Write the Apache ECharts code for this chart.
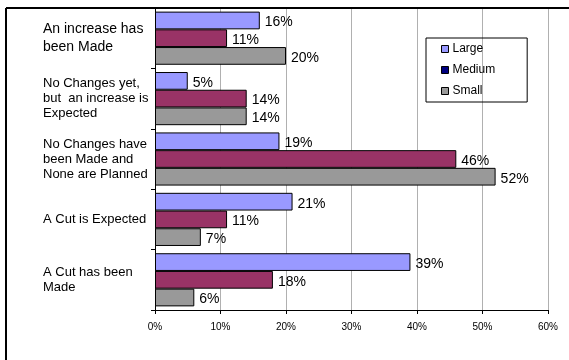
<!DOCTYPE html>
<html>
<head>
<meta charset="utf-8">
<script src="https://cdn.jsdelivr.net/npm/echarts@6/dist/echarts.min.js"></script>
<style>
html,body{margin:0;padding:0;background:#fff;}
#c{width:569px;height:360px;}
</style>
</head>
<body>
<div id="c"></div>
<script>
var categories = [
  "An increase has\nbeen Made",
  "No Changes yet,\nbut  an increase is\nExpected",
  "No Changes have\nbeen Made and\nNone are Planned",
  "A Cut is Expected",
  "A Cut has been\nMade"
];
var seriesNames = ["Large", "Medium", "Small"];
var largeValues = [16, 5, 19, 21, 39];
var mediumValues = [11, 14, 46, 11, 18];
var smallValues = [20, 14, 52, 7, 6];
var xTicks = [0, 10, 20, 30, 40, 50, 60];

var colors = ["#9999FF", "#993366", "#999999"];
var legendColors = ["#9999FF", "#000080", "#999999"];

var chart = echarts.init(document.getElementById('c'));
function mk(name, data, color) {
  return {
    name: name, type: 'bar', data: data,
    barGap: '0%', barCategoryGap: '12%',
    itemStyle: {color: color, borderColor: '#000', borderWidth: 1},
    label: {show: true, position: 'right', distance: 5, formatter: '{c}%', offset: [0, 2],
      color: '#000', fontSize: 14, fontFamily: 'Liberation Sans, Arial, sans-serif'}
  };
}
chart.setOption({
  animation: false,
  backgroundColor: '#fff',
  textStyle: {fontFamily: 'Liberation Sans, Arial, sans-serif'},
  grid: {left: 155, right: 21, top: 8, bottom: 50, containLabel: false, outerBoundsMode: 'none'},
  legend: {
    orient: 'vertical', left: 426, top: 38,
    borderColor: '#000', borderWidth: 1,
    padding: [5, 32, 5, 15],
    itemWidth: 7, itemHeight: 7, itemGap: 9,
    textStyle: {fontSize: 12, color: '#000', padding: [0, 0, 0, -1]},
    data: seriesNames.map(function (n, i) {
      return {name: n, icon: 'rect', itemStyle: {color: legendColors[i], borderColor: '#000', borderWidth: 1}};
    })
  },
  xAxis: {
    type: 'value', min: xTicks[0], max: xTicks[xTicks.length - 1], interval: 10,
    axisLine: {show: true, lineStyle: {color: '#000'}},
    axisTick: {show: true, length: 4, lineStyle: {color: '#000'}},
    axisLabel: {formatter: '{value}%', fontSize: 10, color: '#000', margin: 12},
    splitLine: {show: true, lineStyle: {color: '#b0b0b0', width: 1}}
  },
  yAxis: {
    type: 'category', inverse: true,
    data: categories.map(function (c, i) {
      return i === 0 ? {value: c, textStyle: {fontSize: 14, lineHeight: 18, align: 'left', color: '#000'}} : c;
    }),
    axisLine: {show: true, lineStyle: {color: '#000'}},
    axisTick: {show: true, length: 4, lineStyle: {color: '#000'}},
    axisLabel: {align: 'left', margin: 112, fontSize: 13, lineHeight: 15, color: '#000'}
  },
  graphic: [
    {type: 'line', shape: {x1: 6, y1: 8, x2: 569, y2: 8}, style: {stroke: '#000', lineWidth: 2}, z: 100},
    {type: 'line', shape: {x1: 6, y1: 8, x2: 6, y2: 360}, style: {stroke: '#000', lineWidth: 2}, z: 100}
  ],
  series: [
    mk(seriesNames[0], largeValues, colors[0]),
    mk(seriesNames[1], mediumValues, colors[1]),
    mk(seriesNames[2], smallValues, colors[2])
  ]
});
</script>
</body>
</html>
